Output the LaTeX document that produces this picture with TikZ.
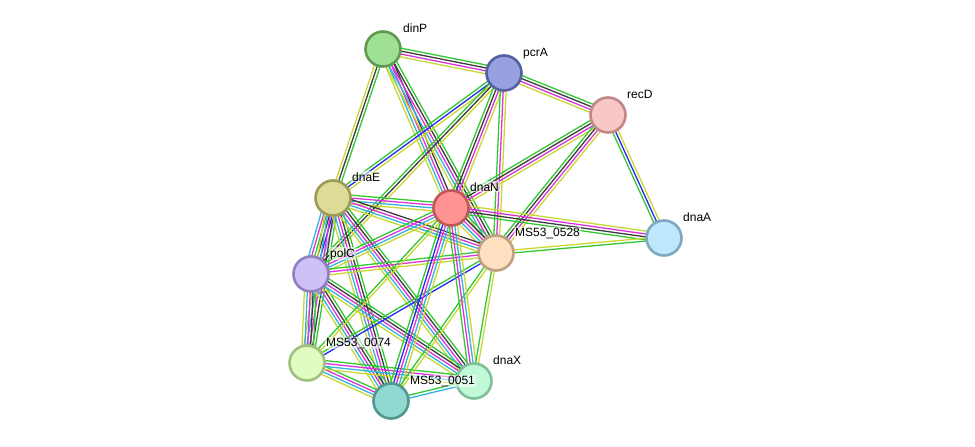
\documentclass[tikz,border=0pt]{standalone}
\usepackage{fontspec}
\setmainfont{Liberation Sans}
\usetikzlibrary{calc}
\pgfdeclarelayer{background}
\pgfsetlayers{background,main}
\definecolor{cG}{RGB}{50,200,50}
\definecolor{cY}{RGB}{200,215,50}
\definecolor{cK}{RGB}{60,60,60}
\definecolor{cM}{RGB}{220,50,220}
\definecolor{cC}{RGB}{50,180,220}
\definecolor{cB}{RGB}{40,40,240}
\definecolor{cP}{RGB}{160,160,240}
\newcommand\sedge[3]{%
  \foreach \cc [count=\ii] in {#3} {\xdef\nlines{\ii}}%
  \foreach \cc [count=\ii] in {#3} {%
    \pgfmathsetmacro\off{((\nlines+1)/2-\ii)*2.9}%
    \draw[\cc, line width=1.3pt] ($(#1)!\off pt!90:(#2)$) -- ($(#2)!\off pt!-90:(#1)$);
  }%
}
\tikzset{
  prot/.style={circle, minimum size=35pt, inner sep=0pt, line width=2.6pt},
  lbl/.style={font=\fontsize{12}{14}\selectfont, anchor=base west, inner sep=1pt,
    fill=white, fill opacity=0.55, text opacity=1},
}
\begin{document}
\begin{tikzpicture}[x=1pt,y=-1pt]
\path[use as bounding box] (0,0) rectangle (975,447);
% proteins
\node[prot, fill={rgb,255:red,160;green,224;blue,148}, draw={rgb,255:red,96;green,154;blue,80}] (dinP) at (383,49) {};
\node[prot, fill={rgb,255:red,152;green,160;blue,224}, draw={rgb,255:red,84;green,96;blue,160}] (pcrA) at (504,73) {};
\node[prot, fill={rgb,255:red,248;green,200;blue,200}, draw={rgb,255:red,192;green,136;blue,136}] (recD) at (608,115) {};
\node[prot, fill={rgb,255:red,220;green,220;blue,152}, draw={rgb,255:red,160;green,154;blue,88}] (dnaE) at (333,198) {};
\node[prot, fill={rgb,255:red,255;green,146;blue,146}, draw={rgb,255:red,192;green,88;blue,88}] (dnaN) at (451,208) {};
\node[prot, fill={rgb,255:red,192;green,232;blue,252}, draw={rgb,255:red,128;green,168;blue,192}] (dnaA) at (664,238) {};
\node[prot, fill={rgb,255:red,253;green,224;blue,192}, draw={rgb,255:red,192;green,160;blue,128}] (m0528) at (496,253) {};
\node[prot, fill={rgb,255:red,208;green,192;blue,248}, draw={rgb,255:red,144;green,128;blue,192}] (polC) at (311,274) {};
\node[prot, fill={rgb,255:red,224;green,252;blue,192}, draw={rgb,255:red,160;green,192;blue,128}] (m0074) at (307,363) {};
\node[prot, fill={rgb,255:red,192;green,248;blue,216}, draw={rgb,255:red,128;green,192;blue,152}] (dnaX) at (474,381) {};
\node[prot, fill={rgb,255:red,144;green,216;blue,208}, draw={rgb,255:red,80;green,152;blue,144}] (m0051) at (391,401) {};
% labels
\node[lbl] (ldinP) at ($(dinP)+(19,-17)$) {dinP};
\node[lbl] (lpcrA) at ($(pcrA)+(18,-17)$) {pcrA};
\node[lbl] (lrecD) at ($(recD)+(18,-17)$) {recD};
\node[lbl] (ldnaE) at ($(dnaE)+(18,-17)$) {dnaE};
\node[lbl] (ldnaN) at ($(dnaN)+(18,-17)$) {dnaN};
\node[lbl] (ldnaA) at ($(dnaA)+(18,-17)$) {dnaA};
\node[lbl] (lm0528) at ($(m0528)+(18,-17)$) {MS53\_0528};
\node[lbl] (lpolC) at ($(polC)+(18,-17)$) {polC};
\node[lbl] (lm0074) at ($(m0074)+(18,-17)$) {MS53\_0074};
\node[lbl] (ldnaX) at ($(dnaX)+(18,-17)$) {dnaX};
\node[lbl] (lm0051) at ($(m0051)+(18,-17)$) {MS53\_0051};
% interactions
\begin{pgfonlayer}{background}
\sedge{dinP}{pcrA}{cG,cK,cM,cY}
\sedge{dinP}{dnaE}{cG,cK,cY}
\sedge{dinP}{dnaN}{cK,cM,cC,cY}
\sedge{dinP}{m0528}{cG,cK,cM,cC,cY}
\sedge{pcrA}{recD}{cG,cK,cM,cY}
\sedge{dnaE}{pcrA}{cG,cB,cY}
\sedge{polC}{pcrA}{cG,cK,cY}
\sedge{dnaN}{pcrA}{cG,cK,cM,cY}
\sedge{m0528}{pcrA}{cG,cM,cY}
\sedge{recD}{dnaA}{cY,cB,cG}
\sedge{dnaN}{recD}{cG,cK,cM,cY}
\sedge{m0528}{recD}{cG,cK,cM,cY}
\sedge{dnaN}{dnaA}{cY,cM,cK,cG}
\sedge{m0528}{dnaA}{cY,cG}
\sedge{dnaN}{m0528}{cG,cK,cM,cC,cY}
\sedge{dnaE}{dnaN}{cG,cM,cC,cY}
\sedge{dnaE}{m0528}{cK,cM,cC,cY}
\sedge{dnaE}{polC}{cP,cB,cK,cG,cM,cC}
\sedge{dnaE}{m0074}{cG,cK,cM,cC,cY}
\sedge{dnaE}{m0051}{cG,cK,cM,cC,cY}
\sedge{dnaE}{dnaX}{cG,cK,cM,cC,cY}
\sedge{polC}{dnaN}{cG,cM,cC,cY}
\sedge{polC}{m0528}{cG,cM,cY}
\sedge{polC}{m0074}{cG,cK,cM,cC,cY}
\sedge{polC}{m0051}{cG,cK,cM,cC,cY}
\sedge{polC}{dnaX}{cG,cK,cM,cC,cY}
\sedge{m0074}{dnaN}{cG,cY}
\sedge{m0074}{m0528}{cG,cB}
\sedge{m0074}{m0051}{cG,cM,cC,cY}
\sedge{m0074}{dnaX}{cG,cM,cC,cY}
\sedge{m0051}{dnaN}{cG,cB,cM,cC,cY}
\sedge{m0051}{m0528}{cG,cY}
\sedge{m0051}{dnaX}{cG,cC}
\sedge{dnaX}{dnaN}{cG,cM,cC,cY}
\sedge{dnaX}{m0528}{cG,cY}
\end{pgfonlayer}
\end{tikzpicture}
\end{document}
